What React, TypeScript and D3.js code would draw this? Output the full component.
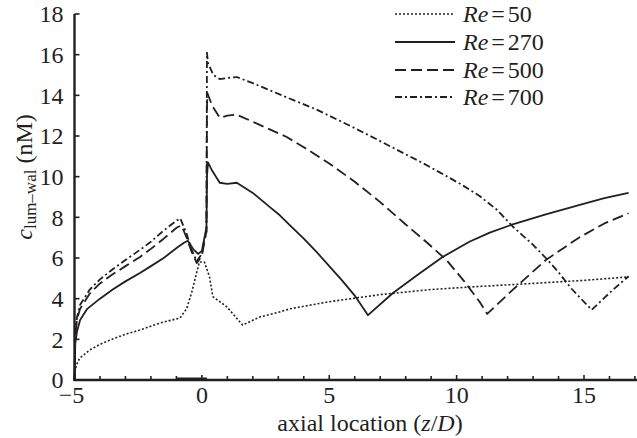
import React from "react";
import * as d3 from "d3";

const xTicks = [-5, 0, 5, 10, 15];
const yTicks = [0, 2, 4, 6, 8, 10, 12, 14, 16, 18];

const re50Z = [-5, -4.97, -4.9, -4.8, -4.4, -4, -3.6, -3, -2.43, -1.65, -0.86, -0.6, -0.4, -0.2, -0.1, 0.1, 0.3, 0.43, 0.98, 1.6, 2.27, 3.06, 3.45, 5, 7, 9, 10.9, 13, 15, 16.75];
const re50C = [0, 0.5, 0.8, 1.07, 1.48, 1.75, 1.97, 2.25, 2.46, 2.8, 3.05, 3.5, 4.3, 5.3, 5.8, 5.8, 5.07, 4.1, 3.6, 2.7, 3.1, 3.35, 3.5, 3.85, 4.2, 4.45, 4.6, 4.75, 4.9, 5.07];

const re270Z = [-5, -4.97, -4.9, -4.78, -4.5, -4, -3.5, -3, -2.43, -2, -1.5, -0.98, -0.7, -0.55, -0.35, -0.15, 0, 0.1, 0.18, 0.2, 0.24, 0.4, 0.7, 1.0, 1.37, 2, 2.67, 3.06, 3.5, 4.0, 4.5, 5.0, 5.5, 6.0, 6.52, 7.5, 8.5, 9.45, 10.5, 11.3, 12.2, 13.5, 14.8, 15.8, 16.75];
const re270C = [0, 1.8, 2.4, 2.95, 3.5, 4.0, 4.45, 4.85, 5.26, 5.6, 6.0, 6.5, 6.75, 6.85, 6.45, 6.2, 6.35, 7.0, 7.5, 10.0, 10.7, 10.3, 9.7, 9.65, 9.7, 9.2, 8.5, 8.1, 7.55, 6.95, 6.3, 5.6, 4.9, 4.15, 3.19, 4.28, 5.2, 6.05, 6.8, 7.25, 7.65, 8.15, 8.6, 8.95, 9.2];

const re500Z = [-5, -4.97, -4.9, -4.78, -4.4, -4, -3.5, -3, -2.43, -2, -1.5, -0.98, -0.8, -0.6, -0.4, -0.2, 0, 0.1, 0.18, 0.2, 0.22, 0.4, 0.7, 1.0, 1.37, 2, 3.33, 4.0, 5.0, 6.0, 7.0, 8.0, 8.8, 9.6, 10.3, 10.9, 11.2, 12.2, 13.5, 14.8, 15.8, 16.75];
const re500C = [0, 2.2, 3.0, 3.5, 4.25, 4.75, 5.2, 5.6, 6.05, 6.45, 6.95, 7.5, 7.6, 7.0, 6.3, 5.75, 6.1, 6.8, 7.3, 13.5, 14.1, 13.5, 12.9, 13.0, 13.05, 12.7, 11.95, 11.45, 10.65, 9.75, 8.75, 7.65, 6.8, 5.9, 4.85, 3.85, 3.25, 4.43, 5.9, 7.0, 7.7, 8.2];

const re700Z = [-5, -4.97, -4.9, -4.78, -4.4, -4, -3.5, -3, -2.43, -2, -1.5, -0.98, -0.85, -0.6, -0.4, -0.2, 0, 0.1, 0.18, 0.2, 0.24, 0.45, 0.7, 1.0, 1.37, 2, 3.33, 4.5, 5.9, 7.0, 8.0, 8.55, 9.5, 10.2, 10.9, 11.6, 12.2, 13.0, 13.5, 14.0, 14.5, 15.3, 16.1, 16.75];
const re700C = [0, 2.3, 3.1, 3.7, 4.45, 4.95, 5.45, 5.9, 6.4, 6.8, 7.35, 7.85, 7.95, 7.2, 6.4, 5.85, 6.2, 6.9, 7.3, 16.1, 15.6, 15.0, 14.8, 14.85, 14.9, 14.6, 13.9, 13.3, 12.45, 11.75, 11.1, 10.75, 10.1, 9.6, 9.05, 8.35, 7.55, 6.65, 6.0, 5.3, 4.5, 3.45, 4.4, 5.1];

const seriesLabels = ["50", "270", "500", "700"];
const dashes = ["2,2", "", "11,5", "7,3,2,3"];

const W = 637;
const H = 438;
const ink = "#231f20";
const font = "'Liberation Serif', 'Times New Roman', serif";

export default function App() {
  const x = d3.scaleLinear().domain([-5, 17.08]).range([74.5, 637]);
  const y = d3.scaleLinear().domain([0, 18]).range([380, 14]);
  const line = d3
    .line<[number, number]>()
    .x((d) => x(d[0]))
    .y((d) => y(d[1]));
  const series = [
    d3.zip(re50Z, re50C) as [number, number][],
    d3.zip(re270Z, re270C) as [number, number][],
    d3.zip(re500Z, re500C) as [number, number][],
    d3.zip(re700Z, re700C) as [number, number][],
  ];
  const minor = d3.range(-5, 18, 1);
  const legendY = [14, 42, 70, 97];

  return (
    <svg
      width={W}
      height={H}
      style={{ position: "absolute", left: 0, top: 0, background: "#fff" }}
      fontFamily={font}
    >
      {series.map((s, i) => (
        <path
          key={i}
          d={line(s) || ""}
          fill="none"
          stroke={ink}
          strokeWidth={i === 0 ? 1.6 : 1.8}
          strokeLinejoin="round"
          strokeDasharray={dashes[i] || undefined}
        />
      ))}
      {/* axes */}
      <line x1={x(-5)} x2={x(-5)} y1={y(18)} y2={y(0) + 1} stroke={ink} strokeWidth={2.4} />
      <line x1={x(-5) - 1} x2={W} y1={y(0)} y2={y(0)} stroke={ink} strokeWidth={2.4} />
      <line x1={x(-1)} x2={x(0.2)} y1={y(0) - 1} y2={y(0) - 1} stroke={ink} strokeWidth={3} />
      {minor.map((t) => (
        <line key={"xt" + t} x1={x(t)} x2={x(t)} y1={y(0)} y2={y(0) - (t % 5 === 0 ? 5 : 4)} stroke={ink} strokeWidth={1.6} />
      ))}
      {yTicks.map((t) => (
        <line key={"yt" + t} x1={x(-5)} x2={x(-5) + 5} y1={y(t)} y2={y(t)} stroke={ink} strokeWidth={1.6} />
      ))}
      {yTicks.map((t) => (
        <text key={"yl" + t} x={x(-5) - 11} y={y(t)} dy="0.35em" textAnchor="end" fontSize={24} fill={ink}>
          {t}
        </text>
      ))}
      {xTicks.map((t) => (
        <text key={"xl" + t} x={t === -5 ? x(t) - 3 : x(t)} y={403} textAnchor="middle" fontSize={24} fill={ink}>
          {t < 0 ? "\u2212" + Math.abs(t) : t}
        </text>
      ))}
      <text x={370} y={431} textAnchor="middle" fontSize={24} fill={ink}>
        axial location (<tspan fontStyle="italic">z</tspan>/<tspan fontStyle="italic">D</tspan>)
      </text>
      <text transform="translate(32,177) rotate(-90)" textAnchor="middle" fontSize={24} fill={ink}>
        <tspan fontStyle="italic">c</tspan>
        <tspan fontSize={17} dy={4}>lum–wal</tspan>
        <tspan dy={-4}> (nM)</tspan>
      </text>
      {/* legend */}
      {seriesLabels.map((lab, i) => (
        <g key={"lg" + i}>
          <line
            x1={395}
            x2={455}
            y1={legendY[i]}
            y2={legendY[i]}
            stroke={ink}
            strokeWidth={i === 0 ? 1.6 : 1.8}
            strokeDasharray={dashes[i] || undefined}
          />
          <text x={463} y={legendY[i]} dy="0.35em" fontSize={24} fill={ink}>
            <tspan fontStyle="italic">Re</tspan>
            <tspan dx={3}>=</tspan>
            <tspan dx={3}>{lab}</tspan>
          </text>
        </g>
      ))}
    </svg>
  );
}
